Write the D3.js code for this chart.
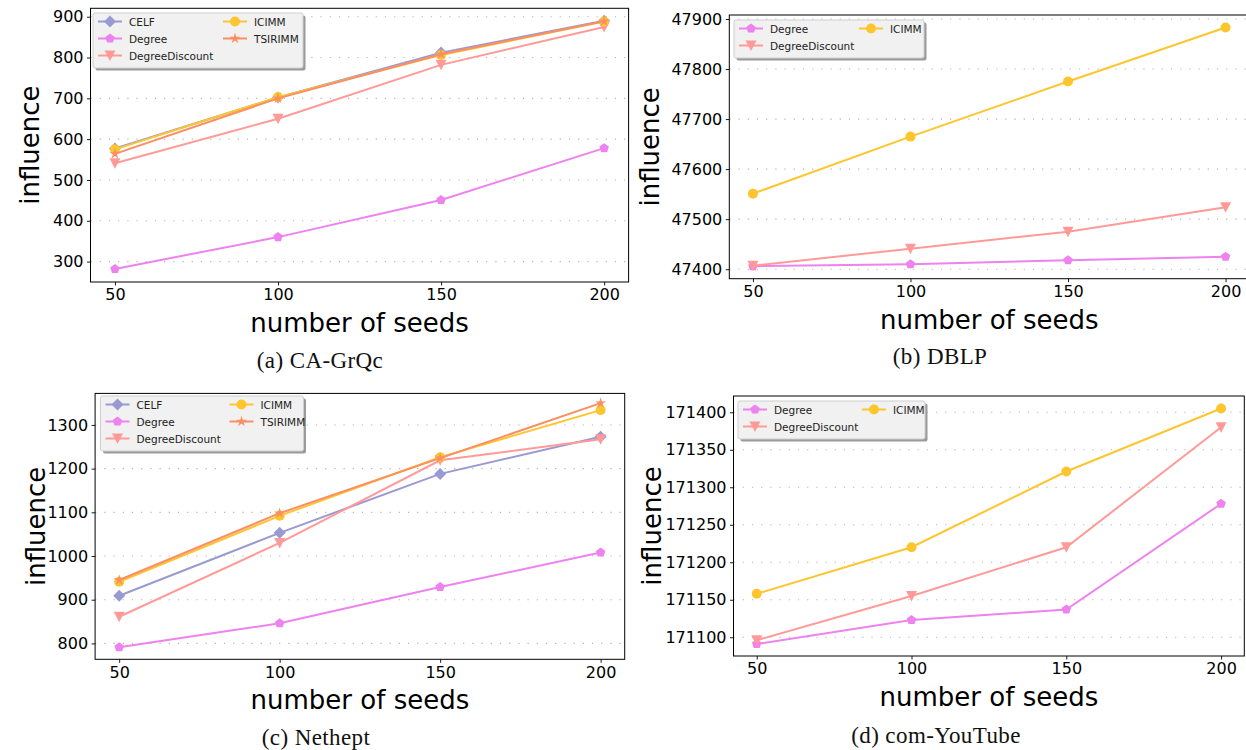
<!DOCTYPE html>
<html lang="en">
<head>
<meta charset="utf-8">
<title>Influence vs number of seeds</title>
<style>
  body { margin: 0; background: #fff; }
  .tick text { font-family: "DejaVu Sans", sans-serif; font-size: 16px; fill: #000; }
  .tick line { stroke: #000; stroke-width: 0.9; }
  .lab { font-family: "DejaVu Sans", sans-serif; font-size: 26px; fill: #000; }
  .cap { font-family: "Liberation Serif", serif; font-size: 23px; fill: #111; letter-spacing: 0.4px; }
  .leg { font-family: "DejaVu Sans", sans-serif; font-size: 10.5px; fill: #222; }
</style>
</head>
<body>
<div id="chart"></div>
<script src="https://d3js.org/d3.v7.min.js"></script>
<script>
// ---- data ----
const seeds = [50, 100, 150, 200];

const grqcCELF = [577, 702, 812, 890];
const grqcDegree = [282, 360, 451, 578];
const grqcDegreeDiscount = [541, 650, 782, 875];
const grqcICIMM = [575, 703, 806, 888];
const grqcTSIRIMM = [564, 700, 808, 889];
const grqcTicks = [300, 400, 500, 600, 700, 800, 900];
const grqcLim = [250, 920.6];

const dblpDegree = [47406, 47410, 47418, 47425];
const dblpDegreeDiscount = [47407, 47441, 47475, 47524];
const dblpICIMM = [47551, 47665, 47775, 47883];
const dblpTicks = [47400, 47500, 47600, 47700, 47800, 47900];
const dblpLim = [47381, 47908];

const nethCELF = [909, 1053, 1188, 1273];
const nethDegree = [791, 846, 929, 1008];
const nethDegreeDiscount = [861, 1030, 1219, 1267];
const nethICIMM = [941, 1092, 1226, 1334];
const nethTSIRIMM = [945, 1098, 1224, 1350];
const nethTicks = [800, 900, 1000, 1100, 1200, 1300];
const nethLim = [763.6, 1372.2];

const ytDegree = [171091, 171123, 171137, 171278];
const ytDegreeDiscount = [171096, 171155, 171220, 171380];
const ytICIMM = [171158, 171220, 171321, 171405];
const ytTicks = [171100, 171150, 171200, 171250, 171300, 171350, 171400];
const ytLim = [171075, 171421.7];

const xLim = [42.5, 207.5];
const captions = ["(a)  CA-GrQc", "(b)  DBLP", "(c)  Nethept", "(d)  com-YouTube"];

// ---- styles ----
const style = {
  CELF: { color: "#9a9ad2", marker: "diamond" },
  Degree: { color: "#ee82ee", marker: "pentagon" },
  DegreeDiscount: { color: "#ff9a98", marker: "tri" },
  ICIMM: { color: "#fdc52e", marker: "circle" },
  TSIRIMM: { color: "#fb8e63", marker: "star" }
};

function markerPath(type) {
  const r = 5;
  let pts = [];
  if (type === "circle") return d3.symbol().type(d3.symbolCircle).size(Math.PI * r * r)();
  if (type === "diamond") pts = [[0, -6], [6, 0], [0, 6], [-6, 0]];
  if (type === "tri") pts = [[-5.5, -5], [5.5, -5], [0, 5.5]];
  if (type === "pentagon") {
    for (let i = 0; i < 5; i++) {
      const a = -Math.PI / 2 + i * 2 * Math.PI / 5;
      pts.push([r * Math.cos(a), r * Math.sin(a)]);
    }
  }
  if (type === "star") {
    for (let i = 0; i < 10; i++) {
      const a = -Math.PI / 2 + i * Math.PI / 5;
      const rr = i % 2 ? r * 0.42 : r * 1.15;
      pts.push([rr * Math.cos(a), rr * Math.sin(a)]);
    }
  }
  return "M" + pts.map(p => p.join(",")).join("L") + "Z";
}

const svg = d3.select("#chart").append("svg")
  .attr("width", 1246).attr("height", 750);
svg.append("rect").attr("width", 1246).attr("height", 750).attr("fill", "#fff");

const panels = [
  { left: 90.5, right: 628.6, top: 8.3, bottom: 282, yLim: grqcLim, yTicks: grqcTicks,
    ylabX: 39, capX: 320, capY: 368,
    series: [["CELF", grqcCELF], ["Degree", grqcDegree], ["DegreeDiscount", grqcDegreeDiscount], ["ICIMM", grqcICIMM], ["TSIRIMM", grqcTSIRIMM]],
    leg: { x: 93, y: 13, w: 210, col: 125 } },
  { left: 729.3, right: 1249.2, top: 15, bottom: 278.7, yLim: dblpLim, yTicks: dblpTicks,
    ylabX: 659, capX: 940, capY: 364,
    series: [["Degree", dblpDegree], ["DegreeDiscount", dblpDegreeDiscount], ["ICIMM", dblpICIMM]],
    leg: { x: 734, y: 20, w: 190, col: 120 } },
  { left: 95.1, right: 624.7, top: 393.4, bottom: 659.3, yLim: nethLim, yTicks: nethTicks,
    ylabX: 45, capX: 316, capY: 745,
    series: [["CELF", nethCELF], ["Degree", nethDegree], ["DegreeDiscount", nethDegreeDiscount], ["ICIMM", nethICIMM], ["TSIRIMM", nethTSIRIMM]],
    leg: { x: 100.5, y: 396, w: 203, col: 124 } },
  { left: 733.5, right: 1244.3, top: 396, bottom: 656, yLim: ytLim, yTicks: ytTicks,
    ylabX: 661, capX: 936, capY: 743,
    series: [["Degree", ytDegree], ["DegreeDiscount", ytDegreeDiscount], ["ICIMM", ytICIMM]],
    leg: { x: 738, y: 401, w: 187, col: 119 } }
];

panels.forEach((p, pi) => {
  const x = d3.scaleLinear().domain(xLim).range([p.left, p.right]);
  const y = d3.scaleLinear().domain(p.yLim).range([p.bottom, p.top]);
  const g = svg.append("g");

  // dotted horizontal grid
  g.append("g").selectAll("line").data(p.yTicks).join("line")
    .attr("x1", p.left).attr("x2", p.right)
    .attr("y1", d => y(d)).attr("y2", d => y(d))
    .attr("stroke", "#b4b4b4").attr("stroke-width", 1.1)
    .attr("stroke-dasharray", "1.2,8");

  const xAxis = g.append("g").attr("transform", `translate(0,${p.bottom})`)
    .call(d3.axisBottom(x).tickValues(seeds).tickSize(3.5).tickPadding(3.5).tickFormat(d3.format("d")));
  const yAxis = g.append("g").attr("transform", `translate(${p.left},0)`)
    .call(d3.axisLeft(y).tickValues(p.yTicks).tickSize(3.5).tickPadding(3.5).tickFormat(d3.format("d")));
  xAxis.select(".domain").remove();
  yAxis.select(".domain").remove();

  // lines + markers
  const line = d3.line().x((d, i) => x(seeds[i])).y(d => y(d));
  p.series.forEach(([name, vals]) => {
    const s = style[name];
    g.append("path").datum(vals).attr("d", line)
      .attr("fill", "none").attr("stroke", s.color).attr("stroke-width", 2);
    g.append("g").selectAll("path").data(vals).join("path")
      .attr("d", markerPath(s.marker))
      .attr("transform", (d, i) => `translate(${x(seeds[i])},${y(d)})`)
      .attr("fill", s.color);
  });

  // frame
  g.append("rect").attr("x", p.left).attr("y", p.top)
    .attr("width", p.right - p.left).attr("height", p.bottom - p.top)
    .attr("fill", "none").attr("stroke", "#000").attr("stroke-width", 1);

  // labels
  g.append("text").attr("class", "lab")
    .attr("x", (p.left + p.right) / 2).attr("y", p.bottom + 50)
    .attr("text-anchor", "middle").text("number of seeds");
  g.append("text").attr("class", "lab")
    .attr("transform", `translate(${p.ylabX},${(p.top + p.bottom) / 2}) rotate(-90)`)
    .attr("text-anchor", "middle").text("influence");
  g.append("text").attr("class", "cap")
    .attr("x", p.capX).attr("y", p.capY)
    .attr("text-anchor", "middle").text(captions[pi]);

  // legend (two columns, column-major)
  const rows = Math.ceil(p.series.length / 2);
  const lh = 17 * rows + 4;
  const lg = g.append("g").attr("transform", `translate(${p.leg.x},${p.leg.y})`);
  lg.append("rect").attr("x", 2.5).attr("y", 2.5).attr("width", p.leg.w).attr("height", lh)
    .attr("rx", 2).attr("fill", "#9a9a9a");
  lg.append("rect").attr("width", p.leg.w).attr("height", lh)
    .attr("rx", 2).attr("fill", "#f1f1f1").attr("stroke", "#cfcfcf").attr("stroke-width", 1);
  p.series.forEach(([name], i) => {
    const s = style[name];
    const col = Math.floor(i / rows), row = i % rows;
    const hx = 5 + col * p.leg.col, hy = 8.5 + row * 17;
    lg.append("line").attr("x1", hx).attr("x2", hx + 24).attr("y1", hy).attr("y2", hy)
      .attr("stroke", s.color).attr("stroke-width", 2);
    lg.append("path").attr("d", markerPath(s.marker))
      .attr("transform", `translate(${hx + 12},${hy})`).attr("fill", s.color);
    lg.append("text").attr("class", "leg").attr("x", hx + 31).attr("y", hy + 4).text(name);
  });
});
</script>
</body>
</html>
